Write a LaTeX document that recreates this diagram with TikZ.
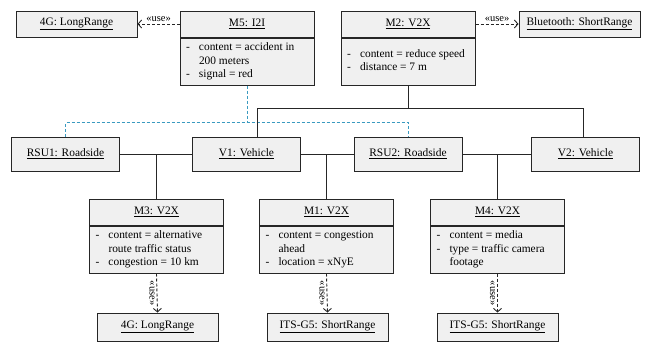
\documentclass[tikz,border=0pt]{standalone}
\usepackage{fontspec}
\setmainfont{Liberation Serif}
\usetikzlibrary{arrows.meta, positioning}
\definecolor{boxfill}{HTML}{F0F0F0}
\definecolor{rsublue}{HTML}{3A9AC0}
\definecolor{darkline}{HTML}{262626}
\newcommand{\attrlist}[1]{\begin{tabular}{@{}p{13pt}@{}p{109pt}@{}}#1\end{tabular}}

\begin{document}
\begin{tikzpicture}[x=1pt, y=-1pt,
    font=\fontsize{11.4}{13.3}\selectfont,
    inst/.style={draw=darkline, line width=1pt, fill=boxfill, minimum width=108pt,
        minimum height=34pt, inner sep=0pt},
    msg/.style={inst, minimum width=134pt, minimum height=26pt},
    attrs/.style={inst, anchor=north, minimum width=134pt, minimum height=47pt,
        inner xsep=6pt},
    radio/.style={inst, minimum width=121pt, minimum height=26pt},
    link/.style={line width=0.9pt, draw=darkline},
    rsulink/.style={line width=0.9pt, draw=rsublue, dash pattern=on 3pt off 2pt},
    uses/.style={-{Straight Barb[length=3.5pt,width=8pt]}, line width=0.9pt,
        draw=darkline, dash pattern=on 3pt off 2pt},
    stereo/.style={font=\fontsize{10.5}{11}\selectfont, inner sep=2pt}
]
\useasboundingbox (0,0) rectangle (645,343);

% Top messages and their radios
\node[msg] (m5) at (247,24) {\underline{M5: I2I}};
\node[attrs] (m5a) at (m5.south) {\attrlist{- & content = accident in\\ & 200 meters\\ - & signal = red}};
\node[msg] (m2) at (408,24) {\underline{M2: V2X}};
\node[attrs] (m2a) at (m2.south) {\attrlist{- & content = reduce speed\\ - & distance = 7 m}};
\node[radio] (lr1) at (76.5,24) {\underline{4G: LongRange}};
\node[radio] (bt) at (579.5,24) {\underline{Bluetooth: ShortRange}};

% Roadside units and vehicles
\node[inst] (rsu1) at (65.5,154) {\underline{RSU1: Roadside}};
\node[inst] (v1) at (246.5,154) {\underline{V1: Vehicle}};
\node[inst] (rsu2) at (408,154) {\underline{RSU2: Roadside}};
\node[inst] (v2) at (585.5,154) {\underline{V2: Vehicle}};

% Lower messages
\node[msg] (m3) at (156.5,212) {\underline{M3: V2X}};
\node[attrs] (m3a) at (m3.south) {\attrlist{- & content = alternative\\ & route traffic status\\ - & congestion = 10 km}};
\node[msg] (m1) at (326.5,212) {\underline{M1: V2X}};
\node[attrs] (m1a) at (m1.south) {\attrlist{- & content = congestion\\ & ahead\\ - & location = xNyE}};
\node[msg] (m4) at (497.5,212) {\underline{M4: V2X}};
\node[attrs] (m4a) at (m4.south) {\attrlist{- & content = media\\ - & type = traffic camera\\ & footage}};

% Lower radios
\node[radio, minimum height=28pt] (lr2) at (157.5,327) {\underline{4G: LongRange}};
\node[radio, minimum height=28pt] (its1) at (327.5,327) {\underline{ITS-G5: ShortRange}};
\node[radio, minimum height=28pt] (its2) at (497.5,327) {\underline{ITS-G5: ShortRange}};

% I2I message between the roadside units
\draw[rsulink] (m5a.south) -- ++(0,37) coordinate (j5);
\draw[rsulink] (rsu1.north) |- (j5) -| (rsu2.north);

% V2X message between the vehicles
\draw[link] (m2a.south) -- ++(0,23) coordinate (j2);
\draw[link] ([xshift=11pt]v1.north) |- (j2) -| ([xshift=-2.5pt]v2.north);

% Links on the road
\draw[link] (rsu1.east) -- (v1.west);
\draw[link] (v1.east) -- (rsu2.west);
\draw[link] (rsu2.east) -- (v2.west);
\draw[link] (m3.north) -- (m3.north |- rsu1.east);
\draw[link] (m1.north) -- (m1.north |- v1.east);
\draw[link] (m4.north) -- (m4.north |- rsu2.east);

% Use dependencies
\draw[uses] (m5.west) -- node[stereo, above] {«use»} (lr1.east);
\draw[uses] (m2.east) -- node[stereo, above] {«use»} (bt.west);
\foreach \m/\r in {m3a/lr2, m1a/its1, m4a/its2}{
    \draw[uses] (\m.south) -- node[stereo, rotate=-90, anchor=north] {«use»} (\r.north);}

\end{tikzpicture}
\end{document}
